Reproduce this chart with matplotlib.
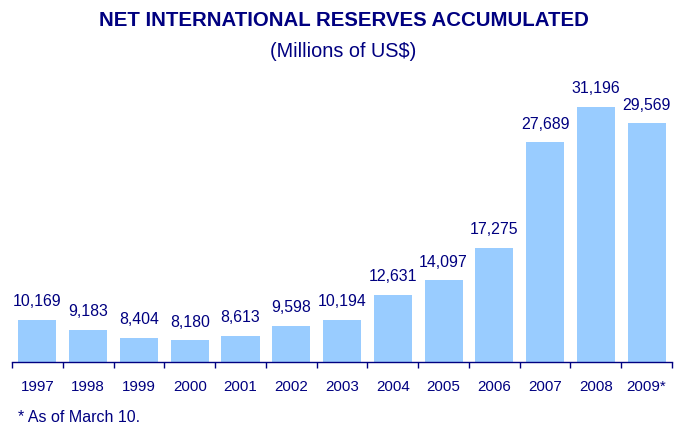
import matplotlib.pyplot as plt
import numpy as np

years = ["1997", "1998", "1999", "2000", "2001", "2002", "2003",
         "2004", "2005", "2006", "2007", "2008", "2009*"]
reserves = [10169, 9183, 8404, 8180, 8613, 9598, 10194,
            12631, 14097, 17275, 27689, 31196, 29569]

navy = "#000080"
bar_color = "#99CCFF"
plt.rcParams["font.family"] = ["Liberation Sans", "DejaVu Sans"]

fig = plt.figure(figsize=(6.83, 4.28), dpi=100)
ax = fig.add_axes([12 / 683, 66 / 428, 660 / 683, 274 / 428])

x = np.arange(len(years))
ax.bar(x, reserves, width=0.75, color=bar_color)
for xi, v in zip(x, reserves):
    ax.annotate(f"{v:,}", (xi, v), xytext=(0, 7.5), textcoords="offset points",
                ha="center", va="bottom", color=navy, fontsize=11.4)

ax.set_xlim(-0.5, len(years) - 0.5)
ax.set_ylim(6000, 33050)
ax.set_xticks(x)
ax.set_xticklabels(years, color=navy, fontsize=10.9)
ax.set_xticks(np.arange(len(years) + 1) - 0.5, minor=True)
ax.tick_params(axis="x", which="major", length=0, pad=13)
ax.tick_params(axis="x", which="minor", length=4, color=navy, width=1)
ax.set_yticks([])
for s in ["top", "left", "right"]:
    ax.spines[s].set_visible(False)
ax.spines["bottom"].set_color(navy)
ax.spines["bottom"].set_linewidth(1)

fig.text(0.503, 0.952, "NET INTERNATIONAL RESERVES ACCUMULATED", ha="center",
         va="center", color=navy, fontsize=14.7, fontweight="bold")
fig.text(0.503, 0.880, "(Millions of US$)", ha="center", va="center",
         color=navy, fontsize=14.3)
fig.text(18 / 683, 1 - 418 / 428, "* As of March 10.", ha="left", va="center",
         color=navy, fontsize=11.5)

fig.savefig("out.png", dpi=100)
